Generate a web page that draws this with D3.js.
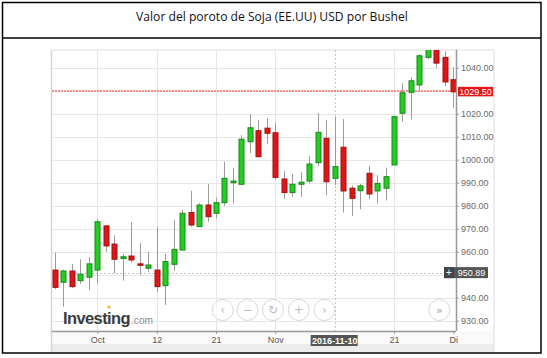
<!DOCTYPE html>
<html>
<head>
<meta charset="utf-8">
<script src="https://cdn.jsdelivr.net/npm/d3@7"></script>
<style>
  html, body { margin: 0; padding: 0; background: #fff; }
  svg { display: block; }
</style>
</head>
<body>
<svg id="chart" width="547" height="358"></svg>
<script>
// ---------------- DATA ----------------
const title = "Valor del poroto de Soja (EE.UU) USD por Bushel";
const dates = ["2016-09-26","2016-09-27","2016-09-28","2016-09-29","2016-09-30",
  "2016-10-03","2016-10-04","2016-10-05","2016-10-06","2016-10-07","2016-10-10","2016-10-11","2016-10-12","2016-10-13","2016-10-14",
  "2016-10-17","2016-10-18","2016-10-19","2016-10-20","2016-10-21","2016-10-24","2016-10-25","2016-10-26","2016-10-27","2016-10-28","2016-10-31",
  "2016-11-01","2016-11-02","2016-11-03","2016-11-04","2016-11-07","2016-11-08","2016-11-09","2016-11-10","2016-11-11","2016-11-14","2016-11-15",
  "2016-11-16","2016-11-17","2016-11-18","2016-11-21","2016-11-22","2016-11-23","2016-11-25","2016-11-28","2016-11-29","2016-11-30","2016-12-01"];
const openV  = [952.0,946.7,951.6,947.4,948.9, 952.0,971.2,963.3,957.0,958.1, 954.7,952.8,952.0,945.2,954.5, 960.7,977.0,970.9,980.3,976.7,
  981.3,990.0,989.3,1007.8,1012.6, 1013.7,1011.7,991.6,985.7,989.3, 990.7,998.7,1009.3,991.9,1005.4, 987.6,986.5,994.1,986.4,987.6,
  997.7,1020.2,1029.3,1032.5,1044.5, 1048.2,1044.5,1034.8];
const highV  = [959.6,952.2,954.6,956.7,957.6, 974.1,971.5,967.1,959.0,972.8, 963.7,960.0,970.9,959.0,973.8, 978.1,986.5,981.0,989.4,983.5,
  999.1,996.5,1010.7,1019.9,1017.3, 1018.0,1016.1,995.1,993.8,994.5, 1001.6,1020.2,1017.3,1018.7,1017.7, 988.7,989.4,997.3,993.3,996.3,
  1019.0,1033.2,1035.8,1046.0,1050.0, 1050.5,1047.1,1040.2];
const lowV   = [943.7,936.1,944.1,946.0,943.3, 946.3,960.0,950.6,947.4,955.2, 949.9,951.3,942.6,936.8,951.7, 960.7,970.9,970.9,973.0,974.5,
  979.9,981.0,989.3,1002.8,1001.0, 1006.7,991.2,983.0,983.9,983.9, 989.7,997.3,984.7,989.0,977.0, 975.5,978.4,982.8,981.0,982.2,
  997.7,1016.5,1017.6,1030.3,1043.6, 1039.9,1031.9,1022.5];
const closeV = [944.5,951.6,944.8,950.2,954.7, 973.0,962.5,956.7,957.8,956.4, 954.3,954.2,944.8,955.7,961.0, 976.7,971.6,980.3,975.2,981.3,
  991.9,990.7,1008.9,1013.9,1001.3, 1011.5,992.3,985.7,989.3,990.2, 998.1,1011.9,990.4,997.0,986.4, 983.2,988.6,985.1,989.7,992.6,
  1018.7,1029.1,1034.3,1045.2,1048.5, 1042.0,1033.8,1029.5];
const yTickValues = [930,940,960,970,980,990,1000,1010,1020,1040];
const yGridValues = [930,940,950,960,970,980,990,1000,1010,1020,1030,1040];
const xTickDates  = ["2016-10-03","2016-10-12","2016-10-21","2016-11-01","2016-11-21","2016-12-01"];
const xTickLabels = ["Oct","12","21","Nov","21","Di"];
const xGridDates  = ["2016-10-03","2016-10-12","2016-10-21","2016-11-01","2016-11-21"];
const lastPrice = 1029.5;
const crossPrice = 950.89;
const crossDate = "2016-11-10";
const crossDateLabel = "2016-11-10";
const navIcons = ["‹","−","↻","+","›"];

const candles = dates.map((d,i)=>({date:d, open:openV[i], high:highV[i], low:lowV[i], close:closeV[i]}));

// ---------------- LAYOUT ----------------
const svg = d3.select("#chart");
const plot = {left:52, right:456, top:50, bottom:331};

const x = d3.scalePoint().domain(dates).range([55, 453.3]).padding(0);
const y = d3.scaleLinear().domain([925.5, 1047.7]).range([plot.bottom, plot.top]);

// outer table frame
svg.append("rect").attr("x",2.5).attr("y",2.5).attr("width",538.5).attr("height",350.5)
  .attr("fill","#fff").attr("stroke","#000").attr("stroke-width",1.5);
svg.append("line").attr("x1",2).attr("x2",541).attr("y1",38).attr("y2",38)
  .attr("stroke","#000").attr("stroke-width",1.5);

// title
const t = svg.append("text").attr("x",272).attr("y",21).attr("text-anchor","middle")
  .attr("font-family","'Open Sans', 'Liberation Sans', sans-serif").attr("font-size",12)
  .attr("fill","#111").text(title);
const tw = t.node().getComputedTextLength();
t.attr("font-size", 12*272/tw);

// widget frame
svg.append("rect").attr("x",plot.left).attr("y",plot.bottom).attr("width",494-plot.left).attr("height",21)
  .attr("fill","#fafafa");
svg.append("rect").attr("x",plot.left).attr("y",344).attr("width",494-plot.left).attr("height",8)
  .attr("fill","#ececec");
svg.append("line").attr("x1",494).attr("x2",494).attr("y1",plot.top).attr("y2",352).attr("stroke","#ddd");
svg.append("line").attr("x1",plot.left).attr("x2",494).attr("y1",plot.top).attr("y2",plot.top).attr("stroke","#ddd");
svg.append("line").attr("x1",plot.left-0.5).attr("x2",plot.left-0.5).attr("y1",plot.top).attr("y2",352).attr("stroke","#d6d6d6").attr("stroke-width",1.5);

// gridlines
svg.append("g").selectAll("line").data(yGridValues).join("line")
  .attr("x1",plot.left).attr("x2",plot.right)
  .attr("y1",d=>Math.round(y(d))+0.5).attr("y2",d=>Math.round(y(d))+0.5)
  .attr("stroke","#e6e6e6");
svg.append("g").selectAll("line").data(xGridDates).join("line")
  .attr("x1",d=>Math.round(x(d))+0.5).attr("x2",d=>Math.round(x(d))+0.5)
  .attr("y1",plot.top).attr("y2",plot.bottom).attr("stroke","#e6e6e6");

// Investing logo
const logo = svg.append("text").attr("x",63).attr("y",323.5)
  .attr("font-family","'Liberation Sans', Arial, sans-serif").attr("font-weight","bold")
  .attr("font-size",17).attr("fill","#3c3c3c").attr("letter-spacing",-0.6).text("Investing");
logo.attr("textLength",67).attr("lengthAdjust","spacingAndGlyphs");
svg.append("text").attr("x",131).attr("y",323.5)
  .attr("font-family","'Liberation Sans', Arial, sans-serif")
  .attr("font-size",11.5).attr("fill","#8a8a8a").attr("textLength",22).attr("lengthAdjust","spacingAndGlyphs").text(".com");
svg.append("circle").attr("cx",109).attr("cy",307).attr("r",1.6).attr("fill","#f2b233");

// nav buttons
const navX = [222.7, 247.5, 273, 298.7, 324.3];
const nav = svg.append("g").selectAll("g").data(navIcons).join("g")
  .attr("transform",(d,i)=>`translate(${navX[i]},310)`);
nav.append("circle").attr("r",10.5).attr("fill","#fff").attr("fill-opacity",0.6).attr("stroke","#d8d8d8");
nav.append("text").attr("text-anchor","middle").attr("dy","0.35em").attr("font-size",12)
  .attr("font-family","'DejaVu Sans', sans-serif").attr("fill","#bdbdbd").text(d=>d);
const ff = svg.append("g").attr("transform","translate(439.3,310)");
ff.append("circle").attr("r",10.5).attr("fill","#fff").attr("stroke","#d8d8d8");
ff.append("text").attr("text-anchor","middle").attr("dy","0.35em").attr("font-size",11)
  .attr("font-family","'DejaVu Sans', sans-serif").attr("fill","#999").text("»");

// crosshair lines
svg.append("line").attr("x1",Math.round(x(crossDate))+0.5).attr("x2",Math.round(x(crossDate))+0.5)
  .attr("y1",plot.top).attr("y2",plot.bottom).attr("stroke","#c4c4c4").attr("stroke-dasharray","2,2");
svg.append("line").attr("x1",plot.left).attr("x2",plot.right)
  .attr("y1",Math.round(y(crossPrice))+0.5).attr("y2",Math.round(y(crossPrice))+0.5)
  .attr("stroke","#c4c4c4").attr("stroke-dasharray","2,2");
// last price line
svg.append("line").attr("x1",plot.left).attr("x2",plot.right)
  .attr("y1",Math.round(y(lastPrice))-1).attr("y2",Math.round(y(lastPrice))-1)
  .attr("stroke","#ff2a2a").attr("stroke-width",1.2).attr("stroke-dasharray","2,1");

// candles
svg.append("clipPath").attr("id","clip").append("rect")
  .attr("x",plot.left).attr("y",plot.top).attr("width",plot.right-plot.left+2).attr("height",plot.bottom-plot.top);
const cg = svg.append("g").attr("clip-path","url(#clip)");
const bw = 5;
cg.selectAll("line.wick").data(candles).join("line").attr("class","wick")
  .attr("x1",d=>Math.round(x(d.date))+0.5).attr("x2",d=>Math.round(x(d.date))+0.5)
  .attr("y1",d=>y(d.high)).attr("y2",d=>y(d.low)).attr("stroke","#9b9b9b");
cg.selectAll("rect.body").data(candles).join("rect").attr("class","body")
  .attr("x",d=>Math.round(x(d.date))-bw/2+0.5).attr("width",bw)
  .attr("y",d=>y(Math.max(d.open,d.close)))
  .attr("height",d=>Math.max(1.5, Math.abs(y(d.open)-y(d.close))))
  .attr("fill",d=>d.close>=d.open?"#24cc24":"#dc1717")
  .attr("stroke",d=>d.close>=d.open?"#178a17":"#a30f0f").attr("stroke-width",1);

// y axis (right)
const yAxis = d3.axisRight(y).tickValues(yTickValues).tickSize(3).tickPadding(2)
  .tickFormat(d3.format(".2f"));
const ya = svg.append("g").attr("transform",`translate(${plot.right},0)`).call(yAxis);
ya.select(".domain").attr("stroke","#999").attr("stroke-width",1.5)
  .attr("d",`M0.5,${plot.top}V${plot.bottom}`);
ya.selectAll(".tick line").attr("stroke","#999");
ya.selectAll(".tick text").attr("fill","#6a6a6a").attr("font-size",9)
  .attr("font-family","'Liberation Sans', Arial, sans-serif");

// x axis
const xAxis = d3.axisBottom(x).tickValues(xTickDates).tickSize(3).tickPadding(3)
  .tickFormat((d)=>xTickLabels[xTickDates.indexOf(d)]);
const xa = svg.append("g").attr("transform",`translate(0,${plot.bottom})`).call(xAxis);
xa.select(".domain").attr("stroke","#999").attr("stroke-width",1.5)
  .attr("d",`M${plot.left},0.5H${plot.right}`);
xa.selectAll(".tick line").attr("stroke","#999");
xa.selectAll(".tick text").attr("fill","#555").attr("font-size",9)
  .attr("font-family","'Liberation Sans', Arial, sans-serif");

// last price label
const lp = svg.append("g").attr("transform",`translate(458,${y(lastPrice)})`);
lp.append("rect").attr("x",0).attr("y",-5).attr("width",35).attr("height",9.5).attr("fill","#e61414");
lp.append("text").attr("x",17.5).attr("y",3).attr("text-anchor","middle").attr("fill","#fff")
  .attr("font-size",9).attr("font-family","'Liberation Sans', Arial, sans-serif").text(d3.format(".2f")(lastPrice));

// crosshair price label
const cp = svg.append("g").attr("transform",`translate(444,${y(crossPrice)})`);
cp.append("rect").attr("x",0).attr("y",-5.5).attr("width",44).attr("height",11).attr("fill","#555");
cp.append("rect").attr("x",0).attr("y",-5.5).attr("width",10).attr("height",11).attr("fill","#444");
cp.append("text").attr("x",5).attr("y",3.5).attr("text-anchor","middle").attr("fill","#fff")
  .attr("font-size",10).attr("font-family","'Liberation Sans', Arial, sans-serif").text("+");
cp.append("text").attr("x",27.5).attr("y",3).attr("text-anchor","middle").attr("fill","#fff")
  .attr("font-size",9).attr("font-family","'Liberation Sans', Arial, sans-serif").text(d3.format(".2f")(crossPrice));

// crosshair date label
const cd = svg.append("g").attr("transform",`translate(${x(crossDate)},${plot.bottom})`);
cd.append("rect").attr("x",-24).attr("y",4).attr("width",47).attr("height",11).attr("fill","#555");
cd.append("text").attr("x",0).attr("y",12.5).attr("text-anchor","middle").attr("fill","#fff")
  .attr("font-size",9).attr("font-weight","bold").attr("font-family","'Liberation Sans', Arial, sans-serif").text(crossDateLabel);
</script>
</body>
</html>
